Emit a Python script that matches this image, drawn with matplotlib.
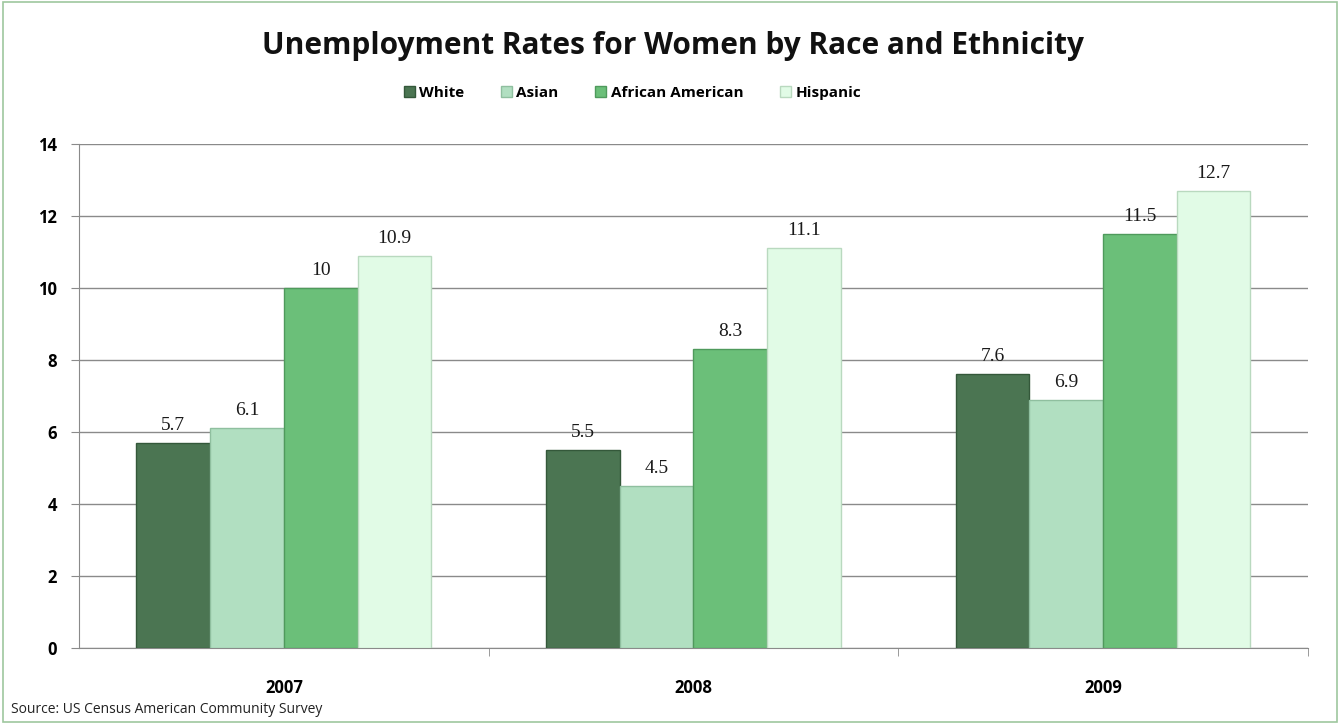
import matplotlib.pyplot as plt
from matplotlib.patches import Rectangle
import numpy as np

years = ["2007", "2008", "2009"]
groups = ["White", "Asian", "African American", "Hispanic"]
white = [5.7, 5.5, 7.6]
asian = [6.1, 4.5, 6.9]
african_american = [10, 8.3, 11.5]
hispanic = [10.9, 11.1, 12.7]
value_labels = [
    ["5.7", "5.5", "7.6"],
    ["6.1", "4.5", "6.9"],
    ["10", "8.3", "11.5"],
    ["10.9", "11.1", "12.7"],
]

colors = ["#4b7552", "#b1dfc1", "#6bbf79", "#e1fbe6"]
edges = ["#34583a", "#8fbf9f", "#4f9a5c", "#b9d9bf"]

fig = plt.figure(figsize=(13.4, 7.24), dpi=100)
ax = fig.add_axes([0.059, 0.105, 0.917, 0.696])

fig.patches.append(Rectangle((0.002, 0.003), 0.996, 0.994, transform=fig.transFigure,
                             fill=False, edgecolor="#9ec79e", linewidth=1.2))

x = np.arange(len(years))
width = 0.18
series = [white, asian, african_american, hispanic]
for i, (vals, name) in enumerate(zip(series, groups)):
    pos = x + (i - 1.5) * width
    ax.bar(pos, vals, width=width, color=colors[i], edgecolor=edges[i],
           linewidth=1.0, label=name, zorder=3)
    for p, v, lab in zip(pos, vals, value_labels[i]):
        ax.text(p, v + 0.25, lab, ha="center", va="bottom", fontsize=14,
                family="Liberation Serif", color="#1a1a1a")

ax.set_xlim(-0.5, 2.5)
ax.set_ylim(0, 14)
ax.set_yticks(range(0, 15, 2))
ax.yaxis.grid(True, color="#8a8a8a", linewidth=1.0, zorder=0)
ax.set_axisbelow(True)
ax.set_xticks(x)
ax.set_xticklabels(years, fontsize=12, fontweight="bold", family="Open Sans")
ax.set_xticks([0.5, 1.5, 2.5], minor=True)
ax.tick_params(axis="x", which="major", length=0, pad=22)
ax.tick_params(axis="x", which="minor", length=6, color="#8a8a8a")
ax.tick_params(axis="y", length=6, color="#8a8a8a", pad=10)
for lbl in ax.get_yticklabels():
    lbl.set_fontweight("bold")
    lbl.set_fontsize(12)
    lbl.set_family("Open Sans")
for side in ["top", "right"]:
    ax.spines[side].set_visible(False)
ax.spines["left"].set_color("#8a8a8a")
ax.spines["bottom"].set_color("#8a8a8a")

fig.text(0.502, 0.937, "Unemployment Rates for Women by Race and Ethnicity",
         ha="center", va="center", fontsize=21.5, fontweight="bold",
         family="Open Sans", color="#111111")

fig.legend(loc="center", bbox_to_anchor=(0.472, 0.872), ncol=4, frameon=False,
           prop={"family": "Open Sans", "weight": "bold", "size": 11},
           handlelength=0.7, handleheight=0.7, handletextpad=0.3, columnspacing=2.4)

fig.text(0.008, 0.02, "Source: US Census American Community Survey",
         ha="left", va="center", fontsize=10, family="Open Sans", color="#222222")

fig.savefig("out.png", dpi=100)
